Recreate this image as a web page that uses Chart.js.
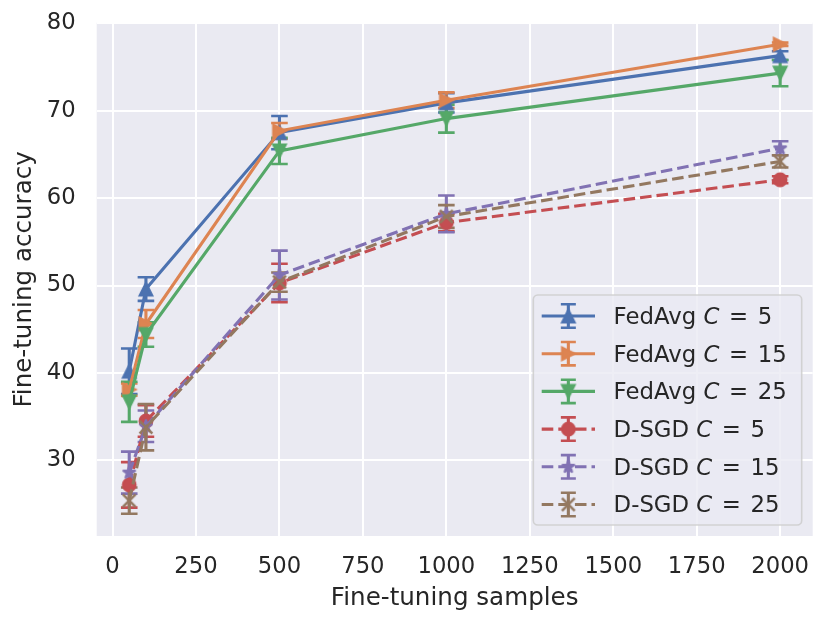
<!DOCTYPE html>
<html><head><meta charset="utf-8">
<style>html,body{margin:0;padding:0;background:#fff;} #wrap{width:830px;height:628px;position:relative;}</style>
<script src="https://cdn.jsdelivr.net/npm/chart.js@4.4.0/dist/chart.umd.min.js"></script>
</head><body><div id="wrap"><canvas id="c" width="830" height="628"></canvas></div>
<script>
// ---- data ----
const samples = [50, 100, 500, 1000, 2000];
const fedavgC5 = [40.2, 49.6, 67.5, 70.9, 76.3];
const fedavgC5Err = [2.6, 1.35, 1.9, 1.1, 0.5];
const fedavgC15 = [38.1, 45.6, 67.7, 71.2, 77.6];
const fedavgC15Err = [0.7, 1.6, 0.9, 0.9, 0.2];
const fedavgC25 = [36.7, 44.4, 65.4, 69.1, 74.3];
const fedavgC25Err = [2.3, 1.4, 1.5, 1.6, 1.5];
const dsgdC5 = [27.2, 34.5, 50.3, 57.2, 62.1];
const dsgdC5Err = [2.6, 1.8, 2.2, 1.0, 0.4];
const dsgdC15 = [28.6, 33.9, 51.2, 58.2, 65.7];
const dsgdC15Err = [2.4, 1.8, 2.8, 2.1, 0.8];
const dsgdC25 = [25.4, 33.8, 50.4, 57.9, 64.2];
const dsgdC25Err = [1.5, 2.65, 1.1, 1.3, 0.7];
const seriesNames = ['FedAvg', 'FedAvg', 'FedAvg', 'D-SGD', 'D-SGD', 'D-SGD'];
const seriesC = ['5', '15', '25', '5', '15', '25'];
const xTicks = [0, 250, 500, 750, 1000, 1250, 1500, 1750, 2000];
const xTickLabels = ['0', '250', '500', '750', '1000', '1250', '1500', '1750', '2000'];
const yTicks = [30, 40, 50, 60, 70, 80];
const yTickLabels = ['30', '40', '50', '60', '70', '80'];
const xTitle = 'Fine-tuning samples';
const yTitle = 'Fine-tuning accuracy';

// ---- styles ----
const seriesValues = [fedavgC5, fedavgC15, fedavgC25, dsgdC5, dsgdC15, dsgdC25];
const seriesErrors = [fedavgC5Err, fedavgC15Err, fedavgC25Err, dsgdC5Err, dsgdC15Err, dsgdC25Err];
const colors = ['#4C72B0', '#DD8452', '#55A868', '#C44E52', '#8172B3', '#937860'];
const markerShapes = ['up', 'right', 'down', 'circle', 'star', 'x'];
const dashedFlags = [false, false, false, true, true, true];
const FONT = '"DejaVu Sans", "Liberation Sans", sans-serif';
const TEXT = '#262626';
const TICK_SIZE = 22.7, TITLE_SIZE = 24.6, LEGEND_SIZE = 22.8;

function makeMarker(shape, color) {
  const S = 28, c = S / 2, h = 6.4;
  const cv = document.createElement('canvas');
  cv.width = S; cv.height = S;
  const g = cv.getContext('2d');
  g.fillStyle = color; g.strokeStyle = color; g.lineWidth = 2; g.lineJoin = 'miter';
  g.beginPath();
  if (shape === 'up') { g.moveTo(c, c - h); g.lineTo(c - h, c + h); g.lineTo(c + h, c + h); g.closePath(); }
  else if (shape === 'right') { g.moveTo(c + h, c); g.lineTo(c - h, c - h); g.lineTo(c - h, c + h); g.closePath(); }
  else if (shape === 'down') { g.moveTo(c, c + h); g.lineTo(c - h, c - h); g.lineTo(c + h, c - h); g.closePath(); }
  else if (shape === 'circle') { g.arc(c, c, h, 0, Math.PI * 2); }
  else if (shape === 'star') {
    g.lineJoin = 'bevel';
    for (let k = 0; k < 10; k++) {
      const r = k % 2 === 0 ? h * 1.05 : h * 1.05 * 0.381966;
      const a = -Math.PI / 2 + k * Math.PI / 5;
      const px = c + r * Math.cos(a), py = c + r * Math.sin(a);
      if (k) g.lineTo(px, py); else g.moveTo(px, py);
    }
    g.closePath();
  } else if (shape === 'x') {
    g.moveTo(c - h, c - h); g.lineTo(c + h, c + h);
    g.moveTo(c - h, c + h); g.lineTo(c + h, c - h);
    g.lineWidth = 2.6; g.stroke();
    return cv;
  }
  g.fill(); g.stroke();
  return cv;
}

const datasets = seriesValues.map((vals, i) => ({
  label: seriesNames[i] + ' C = ' + seriesC[i],
  data: samples.map((x, j) => ({ x: x, y: vals[j] })),
  errors: seriesErrors[i],
  borderColor: colors[i],
  backgroundColor: colors[i],
  borderWidth: 3.1,
  borderDash: dashedFlags[i] ? [11.6, 5] : [],
  pointStyle: makeMarker(markerShapes[i], colors[i]),
  pointRadius: 7,
  pointHoverRadius: 7,
  tension: 0,
  fill: false,
  order: 5 - i
}));

const bgPlugin = {
  id: 'bg',
  beforeDraw(chart) {
    const { ctx, chartArea: a } = chart;
    ctx.save();
    ctx.fillStyle = '#EAEAF2';
    ctx.fillRect(a.left, a.top, a.right - a.left, a.bottom - a.top);
    ctx.restore();
  }
};

const errorBarPlugin = {
  id: 'errorBars',
  beforeDatasetsDraw(chart) {
    const { ctx, chartArea: a, scales: { x, y } } = chart;
    ctx.save();
    ctx.beginPath(); ctx.rect(a.left, a.top, a.right - a.left, a.bottom - a.top); ctx.clip();
    ctx.setLineDash([]); ctx.lineCap = 'butt';
    chart.data.datasets.forEach((ds) => {
      ctx.strokeStyle = ds.borderColor;
      ds.data.forEach((p, j) => {
        const e = ds.errors[j];
        const px = x.getPixelForValue(p.x);
        const yt = y.getPixelForValue(p.y + e), yb = y.getPixelForValue(p.y - e);
        ctx.lineWidth = 3.1;
        ctx.beginPath(); ctx.moveTo(px, yt); ctx.lineTo(px, yb); ctx.stroke();
        ctx.lineWidth = 2.6;
        ctx.beginPath();
        ctx.moveTo(px - 8.3, yt); ctx.lineTo(px + 8.3, yt);
        ctx.moveTo(px - 8.3, yb); ctx.lineTo(px + 8.3, yb);
        ctx.stroke();
      });
    });
    ctx.restore();
  }
};

const legendPlugin = {
  id: 'mplLegend',
  afterDraw(chart) {
    const { ctx, chartArea: a } = chart;
    const W = 268.4, H = 230;
    const right = a.right - 11, bottom = a.bottom - 11;
    const left = right - W, top = bottom - H;
    ctx.save();
    ctx.beginPath();
    ctx.roundRect(left, top, W, H, 4.6);
    ctx.fillStyle = 'rgba(234,234,242,0.8)';
    ctx.fill();
    ctx.lineWidth = 1.6; ctx.strokeStyle = 'rgba(204,204,204,0.85)';
    ctx.stroke();
    chart.data.datasets.forEach((ds, i) => {
      const cy = top + 21 + i * 37.7;
      const x0 = left + 8.4, x1 = left + 61.7, cx = (x0 + x1) / 2;
      ctx.strokeStyle = ds.borderColor;
      ctx.lineWidth = 3.1;
      ctx.setLineDash(ds.borderDash);
      ctx.beginPath(); ctx.moveTo(x0, cy); ctx.lineTo(x1, cy); ctx.stroke();
      ctx.setLineDash([]);
      ctx.beginPath(); ctx.moveTo(cx, cy - 11.7); ctx.lineTo(cx, cy + 11.7); ctx.stroke();
      ctx.lineWidth = 2.6;
      ctx.beginPath();
      ctx.moveTo(cx - 7.5, cy - 11.7); ctx.lineTo(cx + 7.5, cy - 11.7);
      ctx.moveTo(cx - 7.5, cy + 11.7); ctx.lineTo(cx + 7.5, cy + 11.7);
      ctx.stroke();
      const img = ds.pointStyle;
      ctx.drawImage(img, cx - img.width / 2, cy - img.height / 2);
      let tx = left + 80.3;
      const base = cy + 7.9;
      ctx.fillStyle = TEXT; ctx.textAlign = 'left'; ctx.textBaseline = 'alphabetic';
      ctx.font = LEGEND_SIZE + 'px ' + FONT;
      const lead = seriesNames[i] + ' ';
      ctx.fillText(lead, tx, base); tx += ctx.measureText(lead).width;
      ctx.font = 'italic ' + LEGEND_SIZE + 'px ' + FONT;
      ctx.fillText('C', tx, base); tx += ctx.measureText('C').width;
      ctx.font = LEGEND_SIZE + 'px ' + FONT;
      tx += 9.6;
      ctx.fillText('=', tx, base); tx += ctx.measureText('=').width + 9.6;
      ctx.fillText(seriesC[i], tx, base);
    });
    ctx.restore();
  }
};

function zeroPad(s) { s.paddingTop = 0; s.paddingBottom = 0; s.paddingLeft = 0; s.paddingRight = 0; }

new Chart(document.getElementById('c'), {
  type: 'line',
  data: { datasets: datasets },
  plugins: [bgPlugin, errorBarPlugin, legendPlugin],
  options: {
    responsive: false,
    animation: false,
    events: [],
    layout: { padding: { top: 22.7, right: 17.3, left: 0, bottom: 0 } },
    plugins: { legend: { display: false }, tooltip: { enabled: false } },
    scales: {
      x: {
        type: 'linear', min: -47.5, max: 2097.5,
        afterBuildTicks: (s) => { s.ticks = xTicks.map(v => ({ value: v })); },
        afterFit: (s) => { s.height = 92; zeroPad(s); },
        ticks: {
          callback: (v) => { const k = xTicks.indexOf(v); return k >= 0 ? xTickLabels[k] : ''; },
          font: { family: FONT, size: TICK_SIZE }, color: TEXT, padding: 17.1, maxRotation: 0, autoSkip: false
        },
        grid: { color: '#ffffff', lineWidth: 2, drawTicks: false },
        border: { display: false },
        title: { display: true, text: xTitle, font: { family: FONT, size: TITLE_SIZE }, color: TEXT, padding: { top: 0, bottom: 15 } }
      },
      y: {
        type: 'linear', min: 21.35, max: 80.07,
        afterBuildTicks: (s) => { s.ticks = yTicks.map(v => ({ value: v })); },
        afterFit: (s) => { s.width = 96.7; zeroPad(s); },
        ticks: {
          callback: (v) => { const k = yTicks.indexOf(v); return k >= 0 ? yTickLabels[k] : ''; },
          font: { family: FONT, size: TICK_SIZE }, color: TEXT, padding: 21, autoSkip: false
        },
        grid: { color: '#ffffff', lineWidth: 2, drawTicks: false },
        border: { display: false },
        title: { display: true, text: yTitle, font: { family: FONT, size: TITLE_SIZE }, color: TEXT, padding: { top: 10.2, bottom: 0 } }
      }
    }
  }
});
</script>
</body></html>
